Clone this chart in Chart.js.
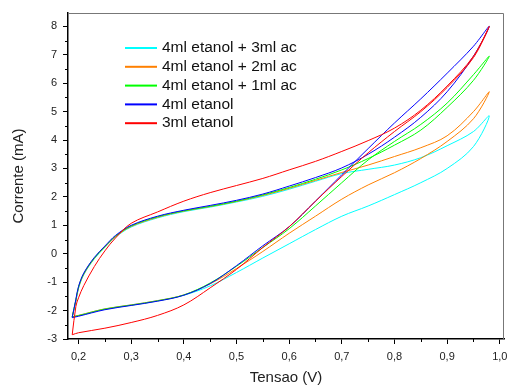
<!DOCTYPE html>
<html lang="pt">
<head>
<meta charset="UTF-8">
<title>Corrente x Tensao</title>
<script src="https://cdn.jsdelivr.net/npm/chart.js"></script>
<style>
  body { margin: 0; background: #fff; }
  #wrap { width: 507px; height: 388px; }
</style>
</head>
<body>
<div id="wrap"><canvas id="myChart" width="507" height="388"></canvas></div>
<script>
// tensao (V) - ida (ramo de baixo) e volta (ramo de cima)
const xIda   = [0.188, 0.2, 0.25, 0.3, 0.35, 0.4, 0.45, 0.5, 0.55, 0.6, 0.65, 0.7, 0.75, 0.8, 0.85, 0.9, 0.95, 0.98];
const xVolta = [0.95, 0.9, 0.85, 0.8, 0.75, 0.7, 0.65, 0.6, 0.55, 0.5, 0.45, 0.4, 0.35, 0.3, 0.27, 0.25, 0.23, 0.21, 0.2, 0.195, 0.188];

// corrente (mA)
const ac3Ida   = [-2.22, -2.17, -1.94, -1.8, -1.65, -1.46, -1.13, -0.66, -0.15, 0.35, 0.85, 1.32, 1.68, 2.08, 2.5, 3.0, 3.77, 4.85];
const ac3Volta = [4.3, 3.8, 3.38, 3.12, 2.97, 2.82, 2.55, 2.27, 2.02, 1.82, 1.64, 1.48, 1.26, 0.94, 0.58, 0.22, -0.18, -0.74, -1.22, -1.67, -2.22];
const ac2Ida   = [-2.22, -2.17, -1.94, -1.8, -1.65, -1.45, -1.06, -0.52, 0.08, 0.72, 1.32, 1.92, 2.42, 2.85, 3.35, 3.95, 4.75, 5.7];
const ac2Volta = [5.0, 4.15, 3.73, 3.42, 3.12, 2.86, 2.58, 2.3, 2.05, 1.84, 1.66, 1.5, 1.28, 0.96, 0.6, 0.24, -0.16, -0.72, -1.2, -1.65, -2.22];
const ac1Ida   = [-2.22, -2.18, -1.95, -1.81, -1.66, -1.45, -1.03, -0.44, 0.22, 0.88, 1.68, 2.5, 3.3, 3.95, 4.55, 5.3, 6.3, 6.95];
const ac1Volta = [6.1, 5.15, 4.35, 3.82, 3.35, 2.95, 2.62, 2.33, 2.07, 1.85, 1.67, 1.51, 1.3, 0.98, 0.62, 0.25, -0.15, -0.7, -1.17, -1.62, -2.22];
const et4Ida   = [-2.25, -2.2, -1.97, -1.82, -1.67, -1.46, -1.05, -0.42, 0.28, 0.95, 1.85, 2.78, 3.7, 4.6, 5.45, 6.35, 7.3, 8.0];
const et4Volta = [6.95, 5.7, 4.8, 4.1, 3.5, 3.02, 2.68, 2.38, 2.1, 1.88, 1.7, 1.53, 1.32, 1.0, 0.64, 0.27, -0.13, -0.68, -1.15, -1.6, -2.25];
const et3Ida   = [-2.85, -2.78, -2.62, -2.42, -2.17, -1.8, -1.2, -0.55, 0.22, 0.95, 1.85, 2.72, 3.55, 4.3, 5.0, 5.85, 6.9, 8.0];
const et3Volta = [6.95, 5.9, 5.05, 4.42, 3.98, 3.6, 3.25, 2.95, 2.65, 2.4, 2.15, 1.85, 1.47, 1.07, 0.55, 0.1, -0.45, -1.12, -1.55, -1.85, -2.85];

const labels = ['4ml etanol + 3ml ac', '4ml etanol + 2ml ac', '4ml etanol + 1ml ac', '4ml etanol', '3ml etanol'];
const cores  = ['#00FFFF', '#FF8000', '#00FF00', '#0000FF', '#FF0000'];

const xTicks = [0.2, 0.3, 0.4, 0.5, 0.6, 0.7, 0.8, 0.9, 1.0];
const yTicks = [-3, -2, -1, 0, 1, 2, 3, 4, 5, 6, 7, 8];

const FONT = '"Liberation Sans", Arial, sans-serif';

function loop(ida, volta) {
  let pts = xIda.map((x, i) => ({ x: x, y: ida[i] }));
  return pts.concat(xVolta.map((x, i) => ({ x: x, y: volta[i] })));
}

const series = [[ac3Ida, ac3Volta], [ac2Ida, ac2Volta], [ac1Ida, ac1Volta], [et4Ida, et4Volta], [et3Ida, et3Volta]];

const datasets = series.map((s, i) => ({
  label: labels[i],
  data: loop(s[0], s[1]),
  borderColor: cores[i],
  borderWidth: 1,
  pointRadius: 0,
  showLine: true,
  fill: false,
  tension: 0.35,
  order: 5 - i
}));

// ticks menores + moldura de cima e da direita
const extras = {
  id: 'extras',
  afterDraw(chart) {
    const ctx = chart.ctx, a = chart.chartArea;
    const sx = chart.scales.x, sy = chart.scales.y;
    ctx.save();
    ctx.strokeStyle = '#777';
    ctx.lineWidth = 1;
    ctx.beginPath();
    ctx.moveTo(a.left, a.top + 0.5);
    ctx.lineTo(a.right - 0.5, a.top + 0.5);
    ctx.lineTo(a.right - 0.5, a.bottom);
    ctx.stroke();
    ctx.strokeStyle = '#000';
    ctx.beginPath();
    xTicks.forEach(v => {
      const m = v + 0.05;
      if (m < sx.max) {
        const px = Math.round(sx.getPixelForValue(m)) + 0.5;
        ctx.moveTo(px, a.bottom);
        ctx.lineTo(px, a.bottom + 3);
      }
    });
    yTicks.forEach(v => {
      const m = v + 0.5;
      if (m < sy.max) {
        const py = Math.round(sy.getPixelForValue(m)) + 0.5;
        ctx.moveTo(a.left, py);
        ctx.lineTo(a.left - 3, py);
      }
    });
    ctx.stroke();
    ctx.restore();
  }
};

// legenda dentro da area do grafico
const legenda = {
  id: 'legenda',
  afterDatasetsDraw(chart) {
    const ctx = chart.ctx;
    ctx.save();
    ctx.font = '15.5px ' + FONT;
    ctx.textBaseline = 'middle';
    chart.data.datasets.forEach((d, i) => {
      const y = 48 + i * 18.8;
      ctx.strokeStyle = d.borderColor;
      ctx.lineWidth = 2;
      ctx.beginPath();
      ctx.moveTo(125, y);
      ctx.lineTo(157, y);
      ctx.stroke();
      ctx.fillStyle = '#111';
      ctx.fillText(d.label, 162, y);
    });
    ctx.restore();
  }
};

const ctx = document.getElementById('myChart');
new Chart(ctx, {
  type: 'scatter',
  data: { datasets: datasets },
  options: {
    responsive: false,
    animation: false,
    layout: { padding: { top: 13, right: 3, left: 0, bottom: 0 } },
    plugins: { legend: { display: false }, tooltip: { enabled: false } },
    scales: {
      x: {
        type: 'linear',
        min: 0.18,
        max: 1.008,
        afterBuildTicks: s => { s.ticks = xTicks.map(v => ({ value: v })); },
        afterFit: s => { s.height = 49; s.paddingLeft = 0; s.paddingRight = 0; },
        ticks: {
          callback: v => v.toFixed(1).replace('.', ','),
          font: { family: FONT, size: 11 },
          color: '#222',
          padding: 6,
          maxRotation: 0
        },
        grid: { drawOnChartArea: false, tickLength: 5, color: '#000' },
        border: { color: '#000', width: 1.5 },
        title: { display: true, text: 'Tensao (V)', font: { family: FONT, size: 15 }, color: '#222', padding: { top: 0, bottom: 1 } }
      },
      y: {
        type: 'linear',
        min: -3,
        max: 8.47,
        afterBuildTicks: s => { s.ticks = yTicks.map(v => ({ value: v })); },
        afterFit: s => { s.width = 68; s.paddingTop = 0; s.paddingBottom = 0; },
        ticks: {
          callback: v => String(v),
          font: { family: FONT, size: 11 },
          color: '#222',
          padding: 6
        },
        grid: { drawOnChartArea: false, tickLength: 5, color: '#000' },
        border: { color: '#000', width: 1.5 },
        title: { display: true, text: 'Corrente (mA)', font: { family: FONT, size: 15 }, color: '#222', padding: { top: 10, bottom: 0 } }
      }
    }
  },
  plugins: [extras, legenda]
});
</script>
</body>
</html>
